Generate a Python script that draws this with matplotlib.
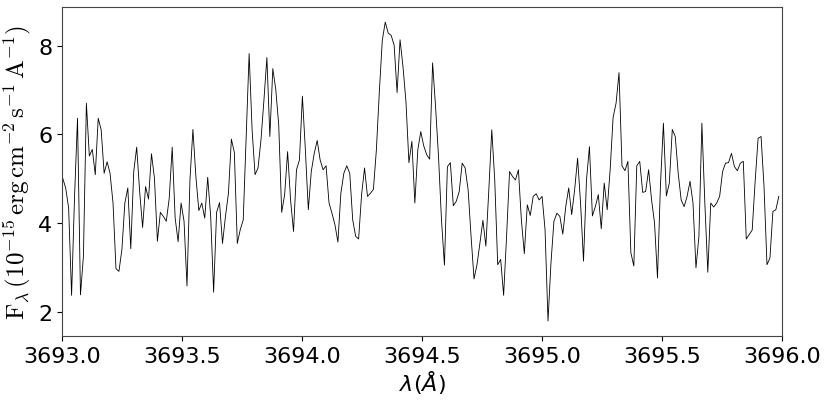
import numpy as np
import matplotlib
matplotlib.use("Agg")
import matplotlib.pyplot as plt

# Spectrum sampling
wave_start = 3693.003
wave_step = 0.01233

# Flux values (1e-15 erg cm^-2 s^-1 A^-1), read left to right
flux = [
    5.01, 4.79, 4.34, 2.37, 4.60, 6.36, 2.38, 3.25, 6.70, 5.51,
    5.66, 5.09, 6.36, 6.10, 5.12, 5.38, 5.12, 4.45, 2.97, 2.91,
    3.40, 4.45, 4.79, 3.42, 5.16, 5.71, 4.71, 3.90, 4.82, 4.54,
    5.56, 5.01, 3.59, 4.24, 4.15, 4.04, 4.56,
    5.71, 4.11, 3.58, 4.45, 4.04, 2.58, 4.97, 6.11, 5.05, 4.28,
    4.45, 4.11, 5.03, 4.15, 2.44, 4.24, 4.46, 3.54, 4.15, 4.67,
    5.89, 5.59, 3.54, 3.85, 4.07, 5.95, 7.82, 6.10, 5.09, 5.24,
    5.87, 6.77, 7.73, 5.95, 7.48,
    7.01, 6.21, 4.24, 4.64, 5.61, 4.52, 3.81, 5.20, 5.42, 6.86,
    5.65, 4.30, 5.16, 5.57, 5.86, 5.42, 5.20, 5.29, 4.45, 4.22,
    3.96, 3.57, 4.67, 5.12, 5.29, 5.12, 4.07, 3.70, 3.64, 4.64,
    5.24, 4.60, 4.67, 4.76, 5.65,
    6.96, 8.12, 8.53, 8.28, 8.23, 8.01, 6.94, 8.13, 7.52, 6.73,
    5.36, 5.84, 4.45, 5.65, 6.06, 5.74, 5.54, 5.44, 7.61, 6.62,
    5.50, 4.07, 3.05, 5.27, 5.36, 4.39, 4.49, 4.71, 5.35, 5.24,
    4.75, 3.70, 2.74, 3.06, 3.55, 4.06,
    3.48, 4.75, 6.10, 4.97, 3.06, 3.18, 2.37, 3.70, 5.16, 5.05,
    4.97, 5.20, 4.07, 3.31, 4.41, 4.17, 4.60, 4.66, 4.52, 4.60,
    3.85, 1.79, 3.10, 4.04, 4.22, 4.15, 3.75, 4.37, 4.79, 4.19,
    4.75, 5.46, 4.45, 3.14,
    4.97, 5.72, 4.16, 4.37, 4.64, 3.87, 4.90, 4.30, 5.20, 6.38,
    6.70, 7.39, 5.29, 5.18, 5.39, 3.33, 3.03, 5.29, 5.39, 4.69,
    4.71, 5.20, 4.52, 4.00, 2.76, 4.86, 6.25, 4.61, 4.90, 6.11,
    5.95, 5.12, 4.52, 4.37, 4.60, 4.94,
    4.45, 2.99, 3.70, 6.25, 4.45, 2.89, 4.45, 4.36, 4.45, 4.60,
    5.16, 5.35, 5.36, 5.57, 5.27, 5.18, 5.35, 5.39, 3.64, 3.74,
    3.84, 4.94, 5.91, 5.95, 4.82, 3.06, 3.21, 4.26, 4.30, 4.60,
]

xticks = [3693.0, 3693.5, 3694.0, 3694.5, 3695.0, 3695.5, 3696.0]
yticks = [2, 4, 6, 8]

wave = wave_start + wave_step * np.arange(len(flux))

fig = plt.figure(figsize=(8.31, 4.06), dpi=100)
ax = fig.add_axes([0.0746, 0.170, 0.8664, 0.810])
ax.plot(wave, flux, color="black", linewidth=0.6)
ax.set_xlim(3693.0, 3696.0)
ax.set_xticks(xticks)
ax.set_xticklabels([f"{t:.1f}" for t in xticks])
ax.set_yticks(yticks)
ax.tick_params(labelsize=16)
ax.set_xlabel(r"$\lambda (\AA)$", fontsize=16, labelpad=2)
ax.set_ylabel(r"$\mathrm{F_{\lambda}\,(10^{-15}\,erg\,cm^{-2}\,s^{-1}\,A^{-1})}$",
              fontsize=18, math_fontfamily="cm", labelpad=3)
for s in ax.spines.values():
    s.set_color("#444444")

fig.savefig("out.png", dpi=100)
